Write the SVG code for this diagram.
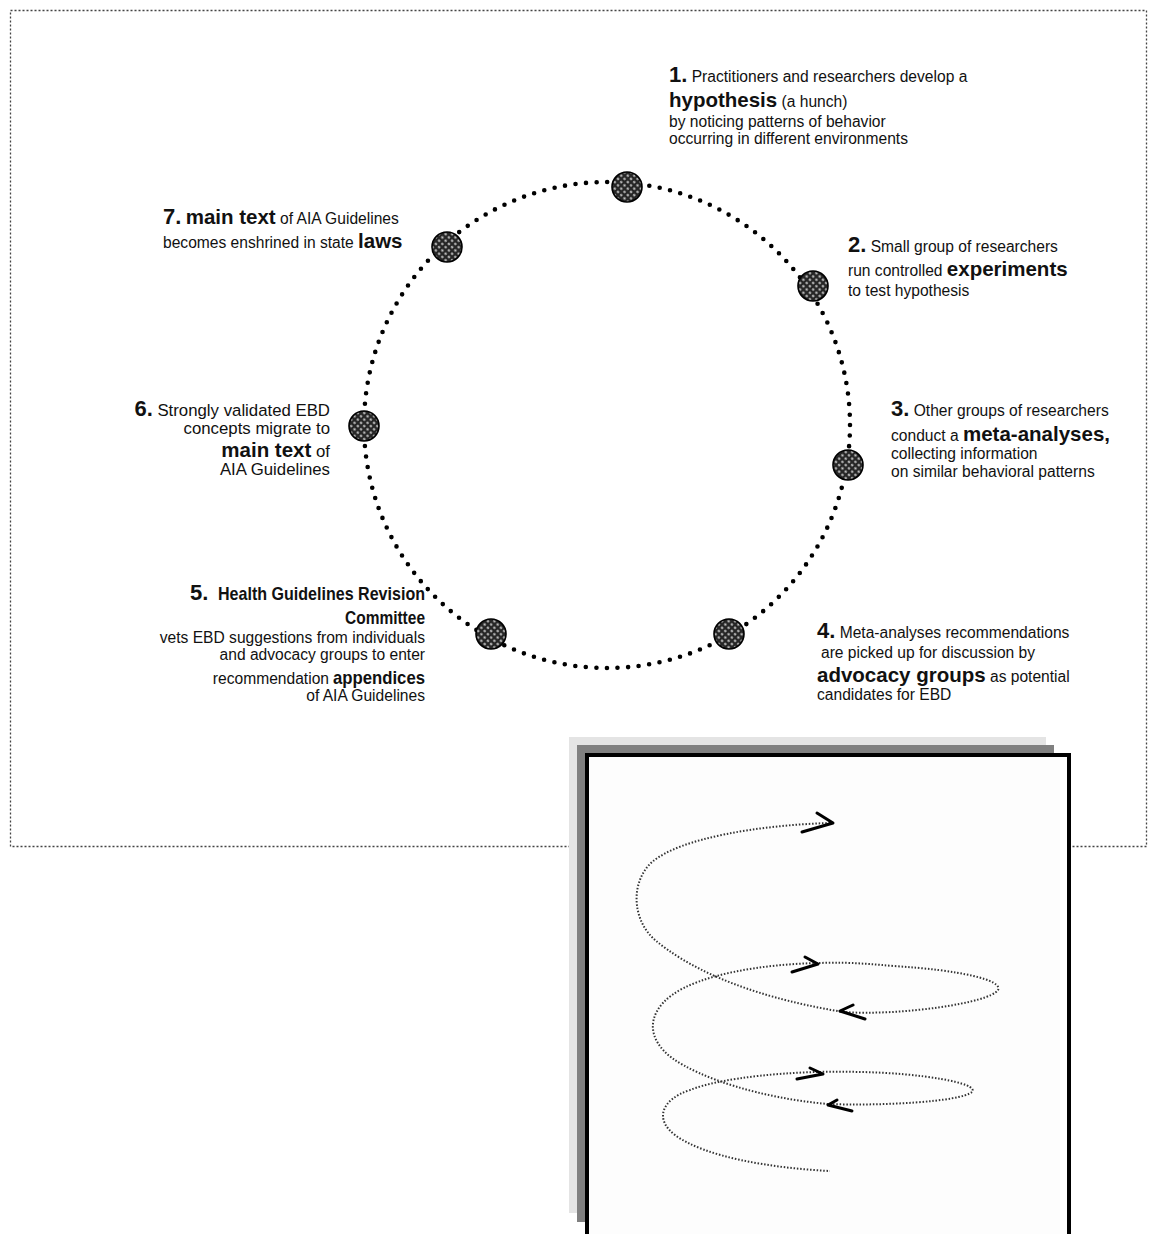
<svg xmlns="http://www.w3.org/2000/svg" width="1149" height="1234" viewBox="0 0 1149 1234">
<style>
.t{font-family:"Liberation Sans",Arial,sans-serif;font-size:15.6px;fill:#111}
.t6{font-size:16.8px}
.b{font-weight:bold;font-size:20.5px}
.n{font-weight:bold;font-size:22px}
.nb{font-family:"Liberation Sans",Arial,sans-serif;font-weight:bold;font-size:19px;fill:#111}
.r{text-anchor:end}
.node{fill:url(#hatch);stroke:#000;stroke-width:1.6}
.ring{fill:none;stroke:#000;stroke-width:4.6;stroke-linecap:round;stroke-dasharray:0 10.6}
.spiral{fill:none;stroke:#333;stroke-width:2;stroke-dasharray:1.5 1.8}
.chev{fill:none;stroke:#000;stroke-width:3;stroke-linecap:round;stroke-linejoin:round}
</style>
<defs>
<pattern id="hatch" width="4.6" height="4.6" patternUnits="userSpaceOnUse" patternTransform="rotate(45)">
<rect width="4.6" height="4.6" fill="#262626"/>
<circle cx="2.3" cy="2.3" r="1.25" fill="#c4c4c4"/>
</pattern>
</defs>
<rect width="1149" height="1234" fill="#fff"/>
<rect x="10.5" y="10.5" width="1136" height="836" fill="none" stroke="#444" stroke-width="1.3" stroke-dasharray="2 2"/>

<g id="connectors">
<circle class="ring" cx="607" cy="425" r="243"/>
</g>

<g id="node1">
<circle class="node" cx="627" cy="187" r="15"/>
<text class="t" x="669" y="82"><tspan class="n">1.</tspan> Practitioners and researchers develop a</text>
<text class="t" x="669" y="107"><tspan class="b">hypothesis</tspan> (a hunch)</text>
<text class="t" x="669" y="127">by noticing patterns of behavior</text>
<text class="t" x="669" y="144">occurring in different environments</text>
</g>

<g id="node2">
<circle class="node" cx="813" cy="286" r="15"/>
<text class="t" x="848" y="252"><tspan class="n">2.</tspan> Small group of researchers</text>
<text class="t" x="848" y="276">run controlled <tspan class="b">experiments</tspan></text>
<text class="t" x="848" y="296">to test hypothesis</text>
</g>

<g id="node3">
<circle class="node" cx="848" cy="465" r="15"/>
<text class="t" x="891" y="416"><tspan class="n">3.</tspan> Other groups of researchers</text>
<text class="t" x="891" y="441">conduct a <tspan class="b">meta-analyses,</tspan></text>
<text class="t" x="891" y="459">collecting information</text>
<text class="t" x="891" y="477">on similar behavioral patterns</text>
</g>

<g id="node4">
<circle class="node" cx="729" cy="634" r="15"/>
<text class="t" x="817" y="638"><tspan class="n">4.</tspan> Meta-analyses recommendations</text>
<text class="t" x="821" y="658">are picked up for discussion by</text>
<text class="t" x="817" y="682"><tspan class="b">advocacy groups</tspan> as potential</text>
<text class="t" x="817" y="700">candidates for EBD</text>
</g>

<g id="node5">
<circle class="node" cx="491" cy="634" r="15"/>
<text class="t" x="190" y="600"><tspan class="n">5.</tspan></text>
<text class="nb r" x="425" y="600" textLength="207" lengthAdjust="spacingAndGlyphs">Health Guidelines Revision</text>
<text class="nb r" x="425" y="624" textLength="80" lengthAdjust="spacingAndGlyphs">Committee</text>
<text class="t r" x="425" y="643">vets EBD suggestions from individuals</text>
<text class="t r" x="425" y="660">and advocacy groups to enter</text>
<text class="t r" x="329" y="684">recommendation</text>
<text class="nb r" x="425" y="684" textLength="92" lengthAdjust="spacingAndGlyphs">appendices</text>
<text class="t r" x="425" y="701">of AIA Guidelines</text>
</g>

<g id="node6">
<circle class="node" cx="364" cy="426" r="15"/>
<text class="t t6 r" x="330" y="416"><tspan class="n">6.</tspan> Strongly validated EBD</text>
<text class="t t6 r" x="330" y="434">concepts migrate to</text>
<text class="t t6 r" x="330" y="457"><tspan class="b">main text</tspan> of</text>
<text class="t t6 r" x="330" y="475">AIA Guidelines</text>
</g>

<g id="node7">
<circle class="node" cx="447" cy="247" r="15"/>
<text class="t" x="163" y="224"><tspan class="n">7.</tspan> <tspan class="b">main text</tspan> of AIA Guidelines</text>
<text class="t" x="163" y="248">becomes enshrined in state <tspan class="b">laws</tspan></text>
</g>

<g id="spiral-figure">
<rect x="569" y="737" width="477" height="476" fill="#e4e4e4"/>
<rect x="577" y="745" width="477" height="477" fill="#808080"/>
<rect x="587" y="755" width="482" height="500" fill="#fdfdfd" stroke="#000" stroke-width="4"/>
<path class="spiral" d="M830 823 C760 825 680 838 652 862 C630 882 632 920 655 940 C685 965 740 995 843 1012 C900 1016 990 1003 998 990 C1003 980 960 970 893 966 C860 963 840 962 820 963 C760 964 700 975 672 995 C645 1015 648 1040 672 1058 C700 1078 760 1098 828 1104 C880 1106 960 1102 972 1092 C980 1083 920 1073 860 1072 C790 1070 720 1078 690 1090 C660 1100 655 1120 675 1135 C705 1157 770 1168 830 1171"/>
<polyline class="chev" points="817,813 833,823 802,832"/>
<polyline class="chev" points="805,957 818,964 792,972"/>
<polyline class="chev" points="853,1005 840,1011 865,1019"/>
<polyline class="chev" points="810,1068 823,1074 797,1079"/>
<polyline class="chev" points="837,1100 828,1105 852,1111"/>
</g>
</svg>
